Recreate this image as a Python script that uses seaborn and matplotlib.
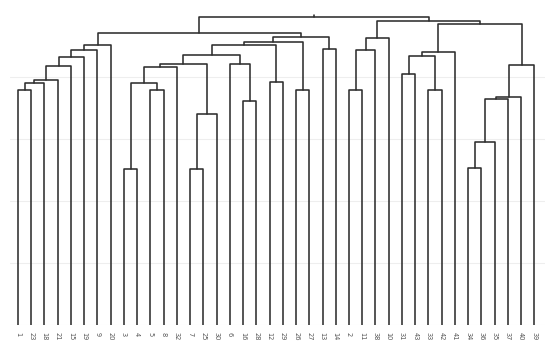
import matplotlib
matplotlib.use("Agg")
import matplotlib.pyplot as plt
import pandas as pd
import seaborn as sns

# leaf order along the x axis (left to right)
leaf_labels = ["1", "23", "18", "21", "15", "19", "9", "20", "3", "4", "5", "8", "32",
               "7", "25", "30", "6", "16", "28", "12", "29", "26", "27", "13", "14",
               "2", "11", "38", "10", "31", "43", "33", "42", "41", "34", "36", "35",
               "37", "40", "39"]

# merges: cluster "c{k}" joins merge_left[k] and merge_right[k] at merge_height[k]
merge_left = ["1", "c0", "c1", "c2", "c3", "c4", "c5",
              "3", "5", "c7", "c9", "7", "c11", "c10", "16", "6", "c13",
              "12", "c16", "26", "c18", "13", "c20", "c6",
              "2", "c24", "c25", "31", "33", "c27", "c29",
              "34", "c31", "c32", "c33", "c34", "c30", "c26", "c23"]
merge_right = ["23", "18", "21", "15", "19", "9", "20",
               "4", "8", "c8", "32", "25", "30", "c12", "28", "c14", "c15",
               "29", "c17", "27", "c19", "14", "c21", "c22",
               "11", "38", "10", "43", "42", "c28", "41",
               "36", "35", "37", "40", "39", "c35", "c36", "c37"]
merge_height = [3.785, 3.91, 3.95, 4.17, 4.32, 4.43, 4.52,
                2.52, 3.785, 3.91, 4.16, 2.52, 3.41, 4.21, 3.61, 4.21, 4.355,
                3.925, 4.51, 3.785, 4.56, 4.45, 4.64, 4.71,
                3.785, 4.435, 4.62, 4.04, 3.785, 4.33, 4.41,
                2.53, 2.945, 3.645, 3.68, 4.19, 4.855, 4.91, 4.97]

pos = {lab: (float(i), 0.0) for i, lab in enumerate(leaf_labels)}
rows = []
for k, (a, b, h) in enumerate(zip(merge_left, merge_right, merge_height)):
    xa, ya = pos[a]
    xb, yb = pos[b]
    for x, y in [(xa, ya), (xa, h), (xb, h), (xb, yb)]:
        rows.append({"x": x, "y": y, "seg": k})
    pos[f"c{k}"] = ((xa + xb) / 2, h)

root_x, root_h = pos[f"c{len(merge_height) - 1}"]
rows.append({"x": root_x, "y": root_h, "seg": len(merge_height)})
rows.append({"x": root_x, "y": root_h + 0.03, "seg": len(merge_height)})
segments = pd.DataFrame(rows)

sns.set_theme(style="whitegrid", rc={"grid.color": "#eeeeee", "grid.linewidth": 0.8})
fig = plt.figure(figsize=(5.5, 3.54), dpi=100)
ax = fig.add_axes([10 / 550, 29 / 354, 535 / 550, 320 / 354])

sns.lineplot(data=segments, x="x", y="y", units="seg", estimator=None, sort=False,
             color="#2e2e2e", linewidth=1.15, ax=ax, legend=False)

ax.set_xlim(-0.6, len(leaf_labels) - 0.2)
ax.set_ylim(0, 5.16)
ax.set_yticks([0, 1, 2, 3, 4])
ax.set_yticklabels([])
ax.set_xticks(range(len(leaf_labels)))
ax.set_xticklabels(leaf_labels, rotation=-90, fontsize=4.8, color="#555555")
ax.tick_params(axis="x", length=0, pad=5)
ax.tick_params(axis="y", length=0)
ax.xaxis.grid(False)
ax.set_xlabel("")
ax.set_ylabel("")
for s in ax.spines.values():
    s.set_visible(False)

fig.savefig("out.png", dpi=100)
